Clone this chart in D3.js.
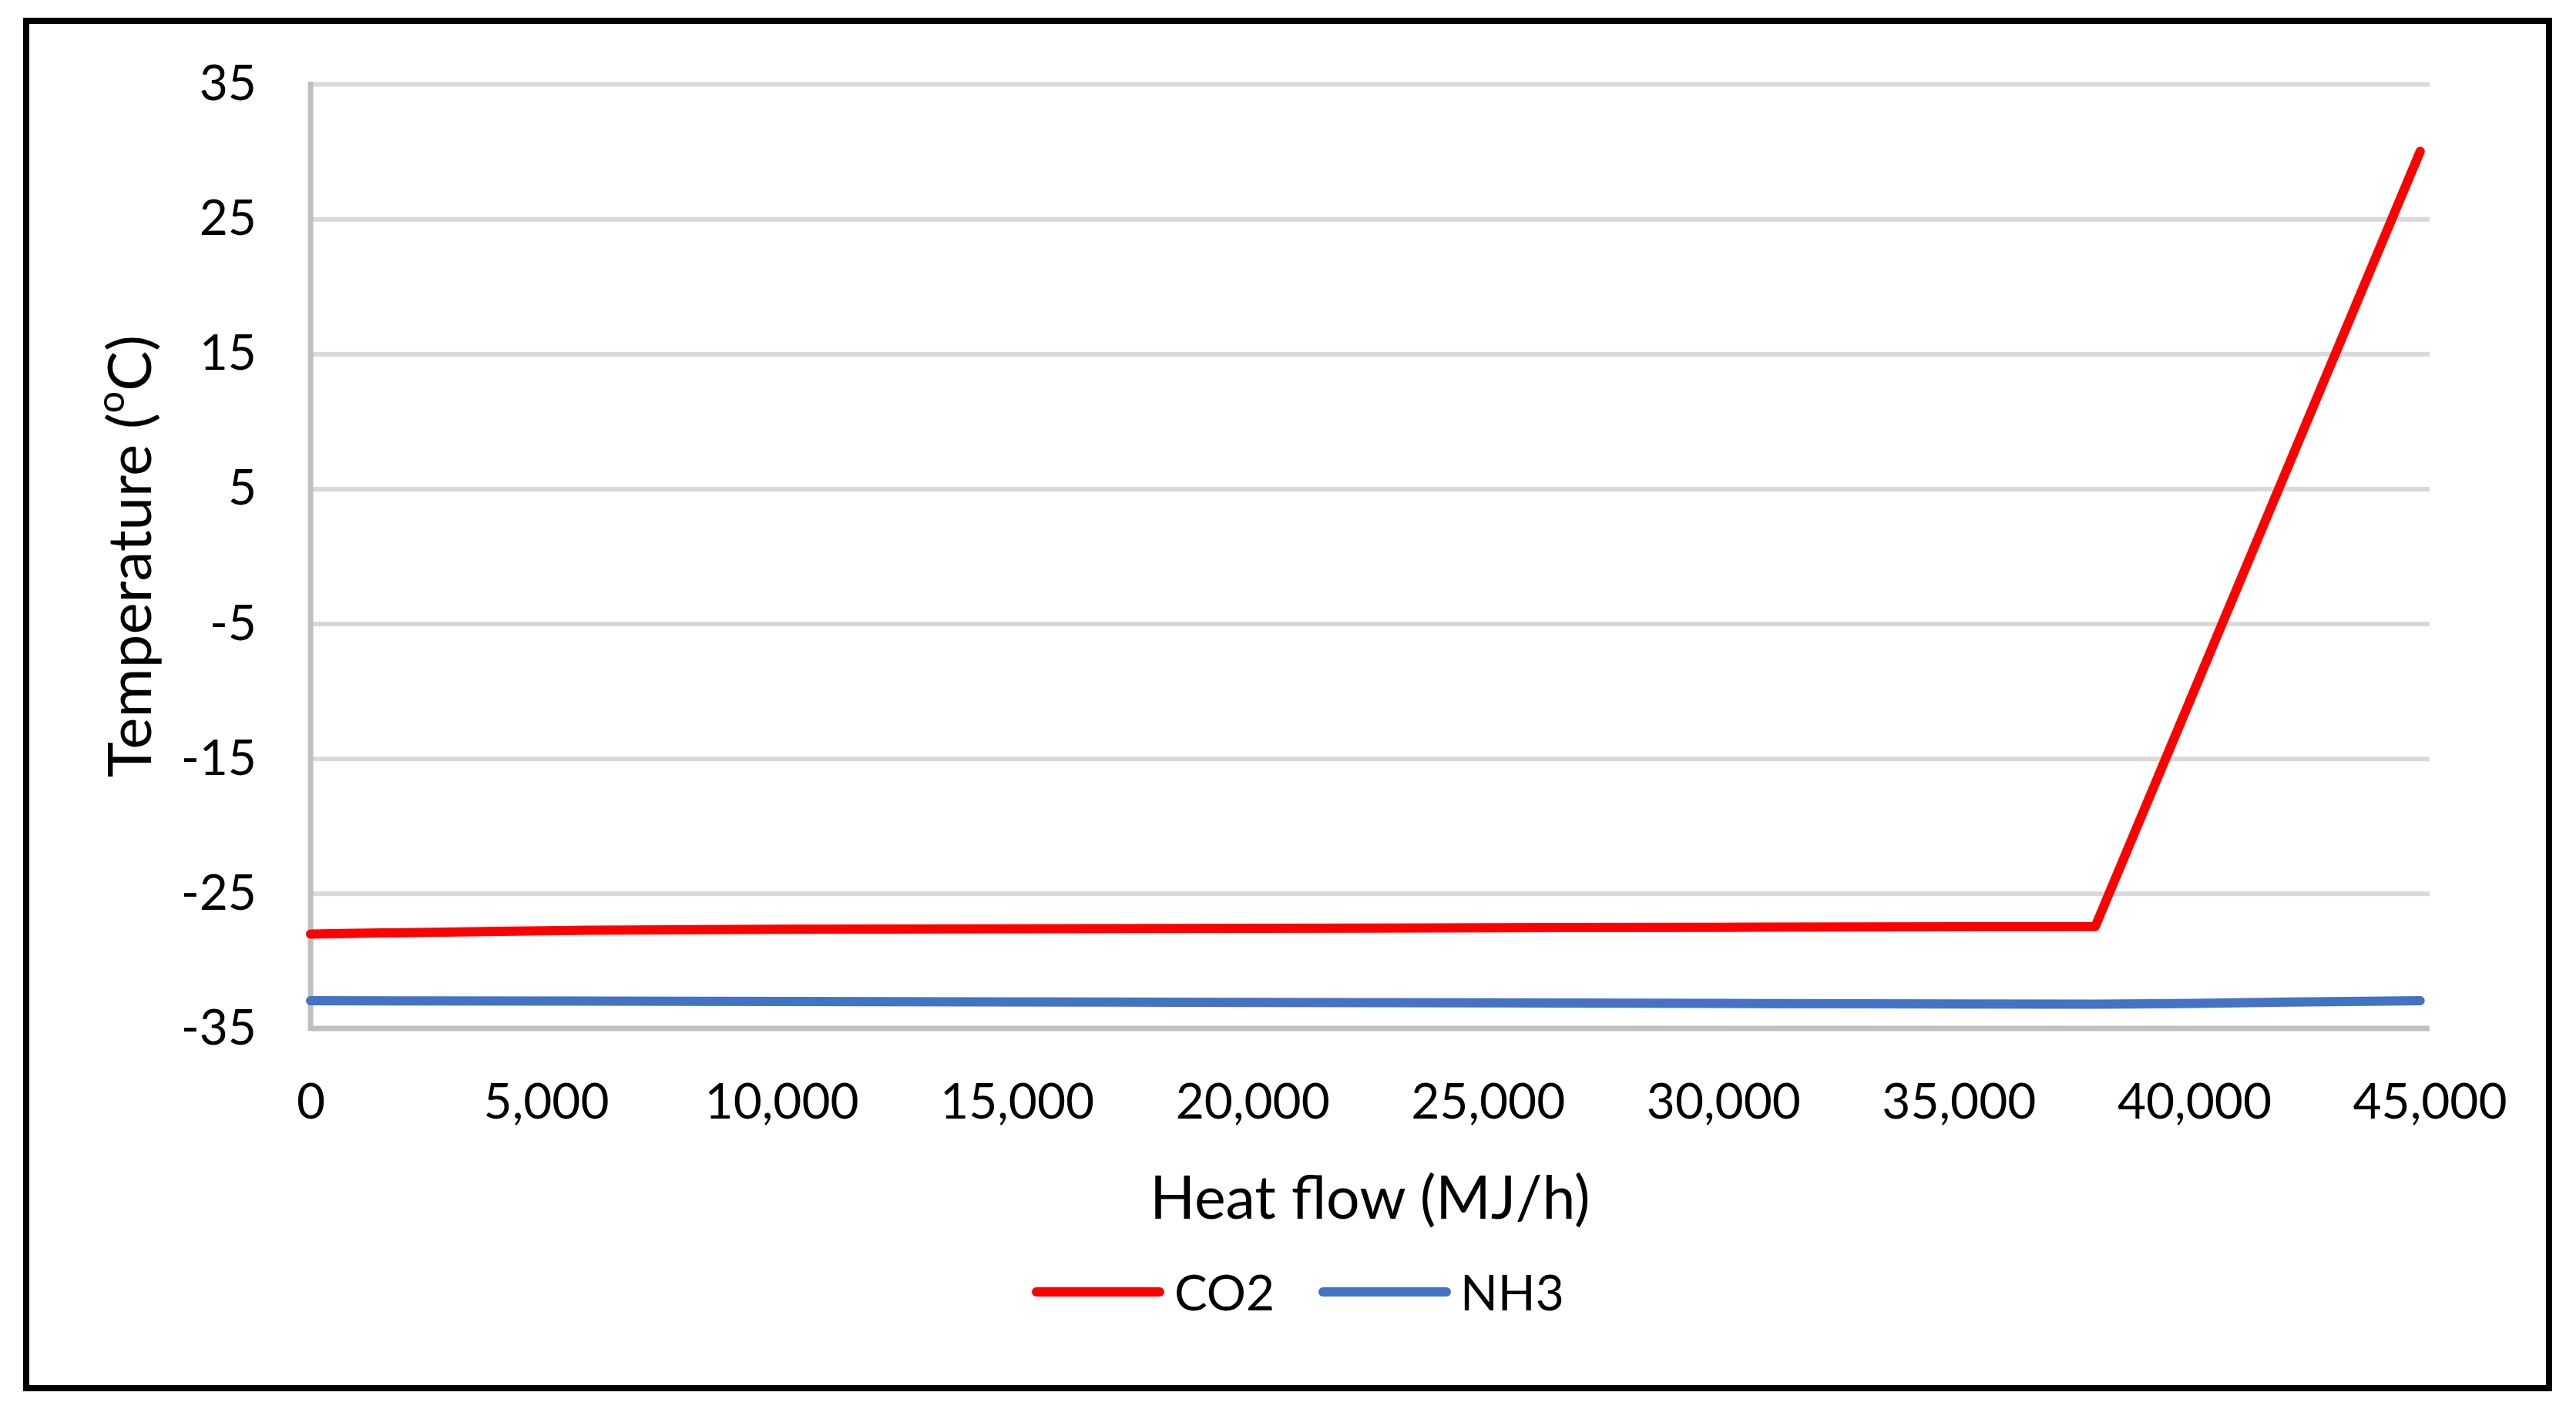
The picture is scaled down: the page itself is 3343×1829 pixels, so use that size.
<!DOCTYPE html>
<html>
<head>
<meta charset="utf-8">
<script src="https://cdn.jsdelivr.net/npm/d3@7"></script>
<style>
  html, body { margin: 0; padding: 0; background: #ffffff; }
  svg { display: block; }
</style>
</head>
<body>
<svg id="chart" width="3343" height="1829"></svg>
<script>
// ---- data ----
const co2X = [0, 2000, 4000, 6000, 10000, 20000, 30000, 37900, 44800];
const co2Y = [-28.0, -27.9, -27.8, -27.72, -27.65, -27.58, -27.5, -27.45, 30.0];
const nh3X = [0, 10000, 17000, 25000, 30000, 37900, 40000, 42000, 44800];
const nh3Y = [-32.95, -33.0, -33.05, -33.1, -33.15, -33.2, -33.15, -33.05, -32.95];
const seriesNames = ["CO2", "NH3"];
const seriesColors = ["#ff0000", "#4472c4"];
const yTicks = [-35, -25, -15, -5, 5, 15, 25, 35];
const xTicks = [0, 5000, 10000, 15000, 20000, 25000, 30000, 35000, 40000, 45000];
const xTitle = "Heat flow (MJ/h)";
const yTitle = "Temperature (";

// ---- layout ----
const W = 3343, H = 1829;
const plot = { left: 403, right: 3153, top: 109, bottom: 1335 };
const font = "Lato, 'Open Sans', sans-serif";

const svg = d3.select("#chart");
svg.append("rect").attr("x", 0).attr("y", 0).attr("width", W).attr("height", H).attr("fill", "#fff");

// outer frame
svg.append("rect")
  .attr("x", 34).attr("y", 27).attr("width", 3308 - 34).attr("height", 1802 - 27)
  .attr("fill", "none").attr("stroke", "#000").attr("stroke-width", 8);

const x = d3.scaleLinear().domain([0, 45000]).range([plot.left, plot.right]);
const y = d3.scaleLinear().domain([-35, 35]).range([plot.bottom, plot.top]);

// gridlines
const grid = svg.append("g")
  .attr("transform", `translate(${plot.left},0)`)
  .call(d3.axisLeft(y).tickValues(yTicks.filter(v => v !== -35)).tickSize(-(plot.right - plot.left)).tickFormat(""));
grid.select(".domain").remove();
grid.selectAll(".tick line").attr("stroke", "#d9d9d9").attr("stroke-width", 6);

// y axis labels (hyphen-minus as in the original)
const yFmt = d => String(d);
const yAxis = svg.append("g")
  .attr("transform", `translate(${plot.left},0)`)
  .call(d3.axisLeft(y).tickValues(yTicks).tickSize(0).tickPadding(70).tickFormat(yFmt));
yAxis.select(".domain").remove();
yAxis.selectAll("text").attr("font-family", font).attr("font-size", 64).attr("fill", "#000");

// x axis labels
const xAxis = svg.append("g")
  .attr("transform", `translate(0,${plot.bottom})`)
  .call(d3.axisBottom(x).tickValues(xTicks).tickSize(0).tickPadding(72).tickFormat(d3.format(",")));
xAxis.select(".domain").remove();
xAxis.selectAll("text").attr("font-family", font).attr("font-size", 64).attr("fill", "#000");

// axis lines (left and bottom)
svg.append("line")
  .attr("x1", plot.left).attr("x2", plot.left).attr("y1", plot.top - 3).attr("y2", plot.bottom + 3)
  .attr("stroke", "#bfbfbf").attr("stroke-width", 7);
svg.append("line")
  .attr("x1", plot.left).attr("x2", plot.right).attr("y1", plot.bottom).attr("y2", plot.bottom)
  .attr("stroke", "#bfbfbf").attr("stroke-width", 7);

// series
const line = d3.line().x(d => x(d[0])).y(d => y(d[1]));
const co2 = co2X.map((v, i) => [v, co2Y[i]]);
const nh3 = nh3X.map((v, i) => [v, nh3Y[i]]);
svg.append("path").datum(nh3).attr("d", line).attr("fill", "none")
  .attr("stroke", seriesColors[1]).attr("stroke-width", 12).attr("stroke-linecap", "round").attr("stroke-linejoin", "round");
svg.append("path").datum(co2).attr("d", line).attr("fill", "none")
  .attr("stroke", seriesColors[0]).attr("stroke-width", 12).attr("stroke-linecap", "round").attr("stroke-linejoin", "round");

// axis titles
svg.append("text")
  .attr("x", (plot.left + plot.right) / 2).attr("y", 1552)
  .attr("text-anchor", "middle").attr("dominant-baseline", "central")
  .attr("font-family", font).attr("font-size", 77).attr("fill", "#000")
  .text(xTitle);

const yt = svg.append("text")
  .attr("transform", "translate(166,722) rotate(-90)")
  .attr("text-anchor", "middle").attr("dominant-baseline", "central")
  .attr("font-family", font).attr("font-size", 78).attr("fill", "#000");
yt.append("tspan").text(yTitle);
yt.append("tspan").attr("font-size", 50).attr("dy", -24).text("o");
yt.append("tspan").attr("dy", 24).text("C)");

// legend
const legendItems = [
  { name: seriesNames[0], color: seriesColors[0], x1: 1345, x2: 1505, tx: 1524 },
  { name: seriesNames[1], color: seriesColors[1], x1: 1717, x2: 1877, tx: 1895 }
];
const lg = svg.append("g");
legendItems.forEach(it => {
  lg.append("line").attr("x1", it.x1).attr("x2", it.x2).attr("y1", 1677).attr("y2", 1677)
    .attr("stroke", it.color).attr("stroke-width", 12).attr("stroke-linecap", "round");
  lg.append("text").attr("x", it.tx).attr("y", 1676).attr("dominant-baseline", "central")
    .attr("font-family", font).attr("font-size", 64).attr("fill", "#000").text(it.name);
});
</script>
</body>
</html>
